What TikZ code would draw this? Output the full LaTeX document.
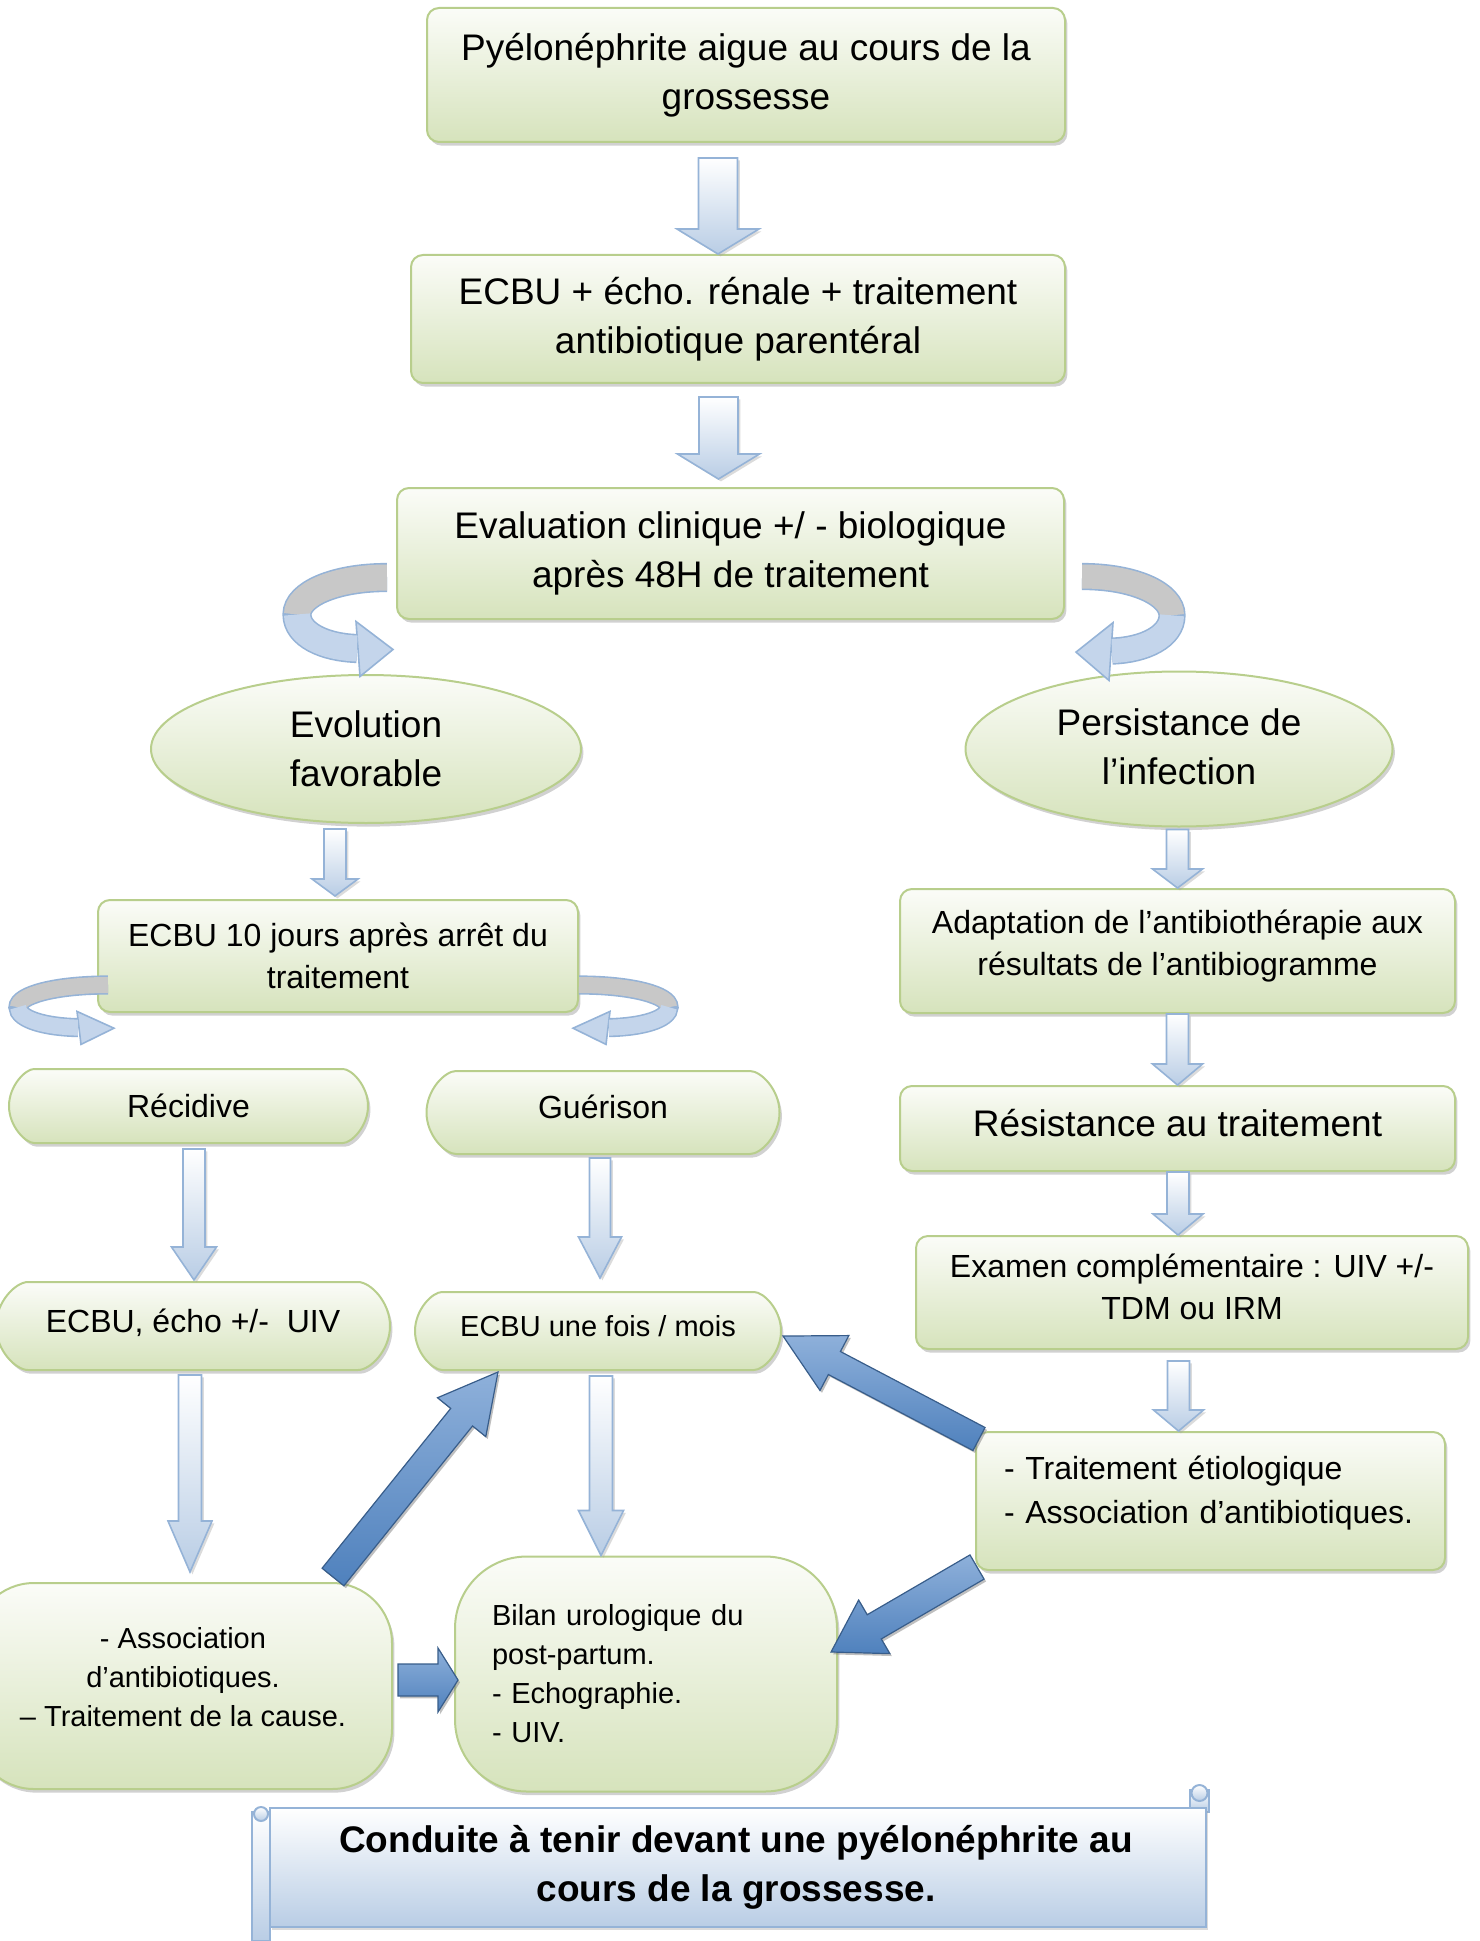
\documentclass[tikz,border=0pt]{standalone}
\usepackage{fontspec}
\setmainfont{Liberation Sans}
\usetikzlibrary{shapes.geometric,shapes.misc,shadows,calc}

\definecolor{boxline}{RGB}{184,206,140}
\definecolor{boxtop}{RGB}{251,252,248}
\definecolor{boxbot}{RGB}{214,227,188}
\definecolor{arrline}{RGB}{149,179,215}
\definecolor{arrfill}{RGB}{185,205,229}
\definecolor{turngrey}{RGB}{200,200,200}
\definecolor{turnblue}{RGB}{196,213,235}
\definecolor{darkfill}{RGB}{79,129,189}
\definecolor{darkline}{RGB}{56,93,138}
\definecolor{darklight}{RGB}{142,176,218}

\newcommand\bigtxt{\fontsize{18.5pt}{24.5pt}\selectfont}
\newcommand\midtxt{\fontsize{16pt}{21pt}\selectfont}
\newcommand\smalltxt{\fontsize{14.5pt}{19.5pt}\selectfont}
% deeper last line, so the text sits a little higher in its box
\newcommand\sink[1]{\rule[-#1]{0pt}{0pt}}

\tikzset{
  box/.style={rectangle, rounded corners=6pt, draw=boxline, line width=1pt,
    top color=boxtop, bottom color=boxbot, align=center, inner sep=0pt,
    drop shadow={shadow xshift=1.2pt, shadow yshift=-1.8pt, fill=black!40, opacity=.45}},
  oval/.style={box, ellipse},
  pill/.style={box, rounded rectangle},
  blockarr/.style={draw=arrline, line width=0.8pt, top color=white, bottom color=arrfill,
    drop shadow={shadow xshift=1.2pt, shadow yshift=-1.2pt, fill=black!35, opacity=.4}},
  darkarr/.style={draw=darkline, line width=0.6pt, top color=darklight, bottom color=darkfill,
    drop shadow={shadow xshift=1pt, shadow yshift=-1.2pt, fill=black!50, opacity=.5}},
  turnedge/.style={draw=arrline},
  turnhead/.style={fill=turnblue, draw=arrline, line width=0.8pt},
  banner/.style={draw=arrline, line width=1pt, top color=white, bottom color=arrfill}
}

% straight down block arrow: top, tip, shaft half width, head half width, head length
\newcommand\vblock[5]{%
  \path[blockarr] let \p1=#1, \p2=#2 in
    ($(\x2,\y1)+(-#3,0)$) -- ($(\x2,\y2)+(-#3,-#5)$) -- ($(\x2,\y2)+(-#4,-#5)$) -- (\x2,\y2)
    -- ($(\x2,\y2)+(#4,-#5)$) -- ($(\x2,\y2)+(#3,-#5)$) -- ($(\x2,\y1)+(#3,0)$) -- cycle;}

% slanted block arrow: from, to, shaft width, head width, head length
\newcommand\dblock[5]{%
  \path let \p1=#1, \p2=#2 in \pgfextra{%
    \pgfmathsetmacro\dang{atan2(\y2-\y1,\x2-\x1)}%
    \pgfmathsetmacro\dlen{veclen(\x2-\x1,\y2-\y1)}%
    \xdef\dang{\dang}\xdef\dlen{\dlen}};
  \begin{scope}[shift={#1}, rotate=\dang, x=0.5pt, y=0.5pt]
    \path[darkarr] (0,-#3/2) -- ({2*\dlen-#5},-#3/2) -- ({2*\dlen-#5},-#4/2) -- ({2*\dlen},0)
      -- ({2*\dlen-#5},#4/2) -- ({2*\dlen-#5},#3/2) -- (0,#3/2) -- cycle;
  \end{scope}}

% curved ribbon arrow: tail, side, height factor, ribbon width
\newcommand\turnarrow[4]{%
  \begin{scope}[shift={#1}, xscale=#2, yscale=#3]
    \draw[turnedge, line width=#4+1.6pt] (0,0) .. controls (-53,0) and (-90,17) .. (-90,37)
      .. controls (-90,57) and (-63,70) .. (-30,71);
    \filldraw[turnhead] (-31,44) -- (6,72) -- (-27,99) -- cycle;
    \draw[line width=#4, draw=turngrey] (0,0) .. controls (-53,0) and (-90,17) .. (-90,37);
    \draw[line width=#4, draw=turnblue] (-90,37) .. controls (-90,57) and (-63,70) .. (-30,71);
  \end{scope}}

\begin{document}
\begin{tikzpicture}[x=0.5pt, y=-0.5pt]
  \useasboundingbox (0,0) rectangle (1479,1941);
  \clip (0,0) rectangle (1479,1941);

  %Main column
  \node[box, minimum width=319pt, minimum height=67pt, font=\bigtxt] (top) at (746,75)
    {Pyélonéphrite aigue au cours de la\\grossesse};
  \node[box, minimum width=327pt, minimum height=64pt, font=\bigtxt] (ecbu) at (738,319)
    {ECBU + écho. rénale + traitement\\antibiotique parentéral};
  \node[box, minimum width=333.5pt, minimum height=65.5pt, font=\bigtxt] (eval) at (730.5,553.5)
    {Evaluation clinique +/ - biologique\\après 48H de traitement};

  %Two outcomes
  \node[oval, minimum width=215pt, minimum height=74pt, font=\bigtxt] (evol) at (366,749)
    {Evolution\\favorable};
  \node[oval, minimum width=213.5pt, minimum height=77.5pt, font=\bigtxt] (persist) at (1179,749)
    {Persistance de\\l’infection\sink{2pt}};

  %Left branch
  \node[box, minimum width=240pt, minimum height=56pt, font=\midtxt] (ecbu10) at (338,956)
    {ECBU 10 jours après arrêt du\\traitement};
  \node[pill, minimum width=179.5pt, minimum height=37pt, font=\midtxt] (recid) at (188.5,1106) {Récidive};
  \node[pill, minimum width=176.5pt, minimum height=41.5pt, font=\midtxt] (guer) at (603,1112.5)
    {Guérison\sink{6pt}};
  \node[pill, minimum width=197pt, minimum height=44pt, font=\midtxt] (ecbuE) at (193,1326)
    {ECBU, écho +/-~ UIV\sink{5.5pt}};
  \node[pill, minimum width=183pt, minimum height=39pt, font=\smalltxt] (ecbuM) at (598,1331)
    {ECBU une fois / mois\sink{5pt}};
  \node[box, rounded corners=30pt, minimum width=209pt, minimum height=103pt, font=\smalltxt] (assoc) at (183,1686)
    {- Association\\d’antibiotiques.\\– Traitement de la cause.\sink{9pt}};
  \node[box, rounded corners=36pt, minimum width=191pt, minimum height=117.5pt, font=\smalltxt,
    text width=154pt, align=left] (bilan) at (646,1674)
    {Bilan urologique du\\post-partum.\\- Echographie.\\- UIV.};

  %Right branch
  \node[box, minimum width=277.5pt, minimum height=62pt, font=\midtxt] (adapt) at (1177.5,951)
    {Adaptation de l’antibiothérapie aux\\résultats de l’antibiogramme\sink{8.4pt}};
  \node[box, minimum width=277.5pt, minimum height=42.5pt, font=\bigtxt] (resist) at (1177.5,1128.5)
    {Résistance au traitement\sink{6pt}};
  \node[box, minimum width=276pt, minimum height=56.5pt, font=\midtxt] (exam) at (1192,1292.5)
    {Examen complémentaire : UIV +/-\\TDM ou IRM\sink{5.5pt}};
  \node[box, minimum width=234.5pt, minimum height=69pt, font=\fontsize{16pt}{22pt}\selectfont,
    text width=206.5pt, align=left] (trait) at (1210.5,1501)
    {- Traitement étiologique\\- Association d’antibiotiques.\sink{11.4pt}};

  %Straight arrows
  \vblock{($(top.south)+(0,15)$)}{($(ecbu.north)+(-20,0)$)}{19.5}{41}{25}
  \vblock{($(ecbu.south)+(0,13)$)}{($(eval.north)+(-12,-8)$)}{19.5}{41}{25}
  \vblock{($(evol.south)+(0,5)$)}{($(ecbu10.north)+(-3,-3)$)}{11}{23}{17}
  \vblock{($(persist.south)+(0,2)$)}{(adapt.north)}{11}{25}{19}
  \vblock{(adapt.south)}{(resist.north)}{11}{25}{21}
  \vblock{(resist.south)}{($(exam.north)+(-14,0)$)}{11}{25}{21}
  \vblock{($(exam.south)+(-14,11)$)}{($(trait.north)+(-32,0)$)}{11}{25}{21}
  \vblock{($(recid.south)+(0,5)$)}{($(ecbuE.north)+(1,-1)$)}{11}{22.5}{33}
  \vblock{($(ecbuE.south)+(0,4)$)}{($(assoc.north)+(7,-10)$)}{11.5}{22}{51}
  \vblock{($(guer.south)+(0,3)$)}{($(ecbuM.north)+(2,-13)$)}{10.5}{21.5}{41}
  \vblock{($(ecbuM.south)+(0,5)$)}{($(bilan.north)+(-45,0)$)}{11.5}{22.5}{45}

  %Curved arrows
  \turnarrow{($(eval.west)+(-9,24)$)}{1}{1}{13pt}
  \turnarrow{($(eval.east)+(17,23)$)}{-1}{1.05}{12pt}
  \turnarrow{($(ecbu10.west)+(11,29)$)}{1}{0.6}{8pt}
  \turnarrow{($(ecbu10.east)+(0,29)$)}{-1}{0.6}{8pt}

  %Dark arrows
  \dblock{($(assoc.north)+(150,-5)$)}{($(ecbuM.south)+(-100,1)$)}{28}{62}{58}
  \dblock{($(assoc.east)+(5,-6)$)}{($(bilan.west)+(4,6)$)}{32}{64}{20}
  \dblock{($(trait.north west)+(4,8)$)}{($(ecbuM.east)+(1,5)$)}{26}{62}{58}
  \dblock{($(trait.south west)+(2,-4)$)}{($(bilan.east)+(-7,-22)$)}{28}{62}{50}

  %Title scroll
  \path[banner] (252,1812) rectangle (270,1941);
  \path[banner] (261,1814) circle (7);
  \path[banner] (1190,1790) rectangle (1209,1812);
  \path[banner] (1199.5,1793) circle (8);
  \path[banner, drop shadow={shadow xshift=1.2pt, shadow yshift=-1.5pt, fill=black!35, opacity=.4}]
    (270,1808) rectangle (1206,1927);
  \node[font=\bigtxt\bfseries, align=center] (title) at (736,1867)
    {Conduite à tenir devant une pyélonéphrite au\\cours de la grossesse.};
\end{tikzpicture}
\end{document}
